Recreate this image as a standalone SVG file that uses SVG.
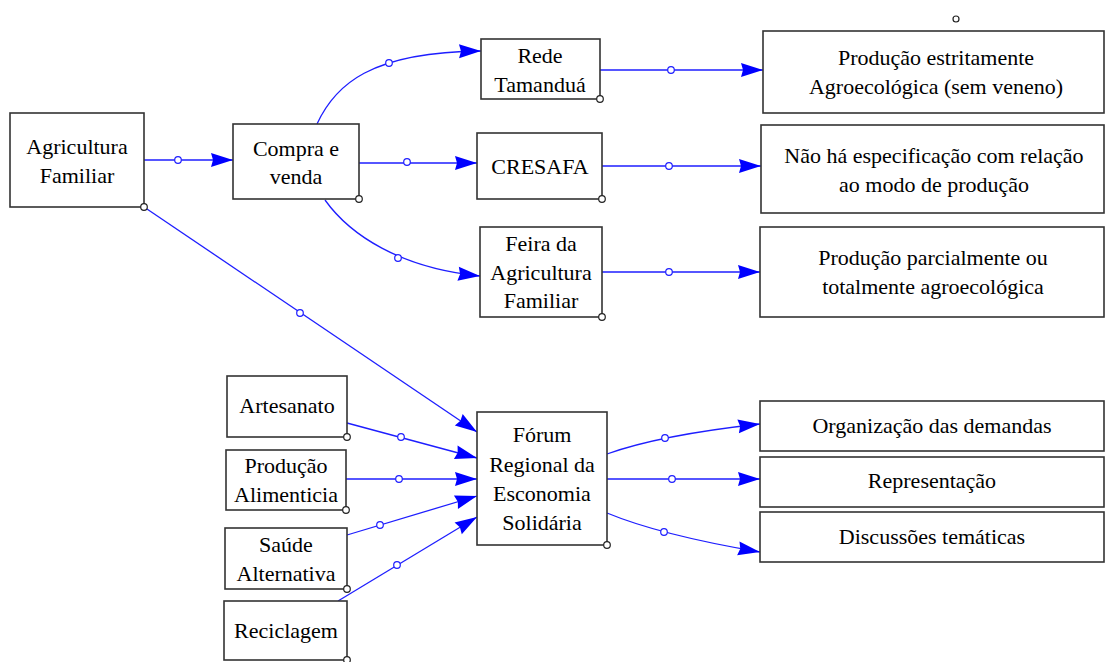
<svg xmlns="http://www.w3.org/2000/svg" width="1105" height="662" viewBox="0 0 1105 662" font-family="Liberation Serif, Times New Roman, Times, serif">
<style>
.box{fill:#fff;stroke:#333;stroke-width:1.6}
text{font-size:22px;fill:#000;text-anchor:middle}
.ln{fill:none;stroke:#1e1eff;stroke-width:1.6}
.cv{fill:none;stroke:#1e1eff;stroke-width:1.3}
.dot{fill:#fff;stroke:#1e1eff;stroke-width:1.2}
.cor{fill:#fff;stroke:#222;stroke-width:1.2}
</style>
<defs>
<marker id="ah" markerUnits="userSpaceOnUse" markerWidth="24" markerHeight="18" viewBox="-23 -9 24 18" refX="0" refY="0" orient="auto">
<path d="M0,0 L-22,-7 L-20,0 L-22,7 Z" fill="#0000ff"/>
</marker>
</defs>
<rect width="1105" height="662" fill="#fff"/>

<g id="connectors">
<path class="ln" d="M144,160 H233" marker-end="url(#ah)"/>
<circle class="dot" cx="178" cy="160" r="3.3"/>
<path class="cv" d="M317,124 C335,85 370,52 481,51" marker-end="url(#ah)"/>
<circle class="dot" cx="389" cy="63" r="3.3"/>
<path class="ln" d="M359,163 H477" marker-end="url(#ah)"/>
<circle class="dot" cx="407" cy="162" r="3.3"/>
<path class="cv" d="M325,200 C350,235 400,268 480,276" marker-end="url(#ah)"/>
<circle class="dot" cx="398" cy="258" r="3.3"/>
<path class="ln" d="M600,70 H763" marker-end="url(#ah)"/>
<circle class="dot" cx="671" cy="70" r="3.3"/>
<path class="ln" d="M602,166 H761" marker-end="url(#ah)"/>
<circle class="dot" cx="669" cy="166" r="3.3"/>
<path class="ln" d="M602,272 H760" marker-end="url(#ah)"/>
<circle class="dot" cx="669" cy="272" r="3.3"/>
<path class="cv" d="M144,207 L477,432" marker-end="url(#ah)"/>
<circle class="dot" cx="300" cy="313" r="3.3"/>
<path class="cv" d="M347,423 L477,458" marker-end="url(#ah)"/>
<circle class="dot" cx="401" cy="437" r="3.3"/>
<path class="ln" d="M346,479 H477" marker-end="url(#ah)"/>
<circle class="dot" cx="399" cy="479" r="3.3"/>
<path class="cv" d="M347,535 L477,496" marker-end="url(#ah)"/>
<circle class="dot" cx="380" cy="525" r="3.3"/>
<path class="cv" d="M338,601 L477,517" marker-end="url(#ah)"/>
<circle class="dot" cx="397" cy="565" r="3.3"/>
<path class="cv" d="M607,454 Q660,435 760,424" marker-end="url(#ah)"/>
<circle class="dot" cx="665" cy="438" r="3.3"/>
<path class="ln" d="M607,479 H760" marker-end="url(#ah)"/>
<circle class="dot" cx="672" cy="479" r="3.3"/>
<path class="cv" d="M607,513 Q660,535 760,552" marker-end="url(#ah)"/>
<circle class="dot" cx="664" cy="532" r="3.3"/>
</g>

<g id="agricultura">
<rect class="box" x="10" y="113" width="134" height="94"/>
<text x="77" y="154">Agricultura</text>
<text x="77" y="183">Familiar</text>
<circle class="cor" cx="144" cy="207" r="3.3"/>
</g>
<g id="compra">
<rect class="box" x="233" y="124" width="126" height="75"/>
<text x="296" y="156">Compra e</text>
<text x="296" y="184">venda</text>
<circle class="cor" cx="359" cy="199" r="3.3"/>
</g>
<g id="rede">
<rect class="box" x="481" y="39" width="119" height="60"/>
<text x="540" y="63">Rede</text>
<text x="540" y="92">Tamanduá</text>
<circle class="cor" cx="600" cy="99" r="3.3"/>
</g>
<g id="cresafa">
<rect class="box" x="477" y="133" width="125" height="66"/>
<text x="540" y="174">CRESAFA</text>
<circle class="cor" cx="602" cy="199" r="3.3"/>
</g>
<g id="feira">
<rect class="box" x="480" y="227" width="122" height="90"/>
<text x="541" y="251">Feira da</text>
<text x="541" y="280">Agricultura</text>
<text x="541" y="308">Familiar</text>
<circle class="cor" cx="602" cy="317" r="3.3"/>
</g>
<g id="estritamente">
<rect class="box" x="763" y="31" width="341" height="82"/>
<text x="936" y="65">Produção estritamente</text>
<text x="936" y="94">Agroecológica (sem veneno)</text>
<circle class="cor" cx="956" cy="19" r="3"/>
</g>
<g id="especificacao">
<rect class="box" x="761" y="125" width="343" height="88"/>
<text x="934" y="163">Não há especificação com relação</text>
<text x="934" y="192">ao modo de produção</text>
</g>
<g id="parcialmente">
<rect class="box" x="760" y="227" width="344" height="90"/>
<text x="933" y="265">Produção parcialmente ou</text>
<text x="933" y="294">totalmente agroecológica</text>
</g>
<g id="artesanato">
<rect class="box" x="227" y="376" width="120" height="61"/>
<text x="287" y="413">Artesanato</text>
<circle class="cor" cx="347" cy="437" r="3.3"/>
</g>
<g id="producao-alimenticia">
<rect class="box" x="226" y="450" width="120" height="60"/>
<text x="286" y="473">Produção</text>
<text x="286" y="502">Alimenticia</text>
<circle class="cor" cx="346" cy="510" r="3.3"/>
</g>
<g id="saude">
<rect class="box" x="225" y="528" width="122" height="61"/>
<text x="286" y="552">Saúde</text>
<text x="286" y="581">Alternativa</text>
<circle class="cor" cx="347" cy="589" r="3.3"/>
</g>
<g id="reciclagem">
<rect class="box" x="224" y="601" width="123" height="59"/>
<text x="286" y="638">Reciclagem</text>
<circle class="cor" cx="347" cy="660" r="3.3"/>
</g>
<g id="forum">
<rect class="box" x="477" y="412" width="130" height="133"/>
<text x="542" y="442">Fórum</text>
<text x="542" y="472">Regional da</text>
<text x="542" y="501">Esconomia</text>
<text x="542" y="530">Solidária</text>
<circle class="cor" cx="607" cy="545" r="3.3"/>
</g>
<g id="organizacao">
<rect class="box" x="760" y="401" width="344" height="50"/>
<text x="932" y="433">Organização das demandas</text>
</g>
<g id="representacao">
<rect class="box" x="760" y="457" width="344" height="50"/>
<text x="932" y="488">Representação</text>
</g>
<g id="discussoes">
<rect class="box" x="760" y="512" width="344" height="50"/>
<text x="932" y="544">Discussões temáticas</text>
</g>
</svg>
